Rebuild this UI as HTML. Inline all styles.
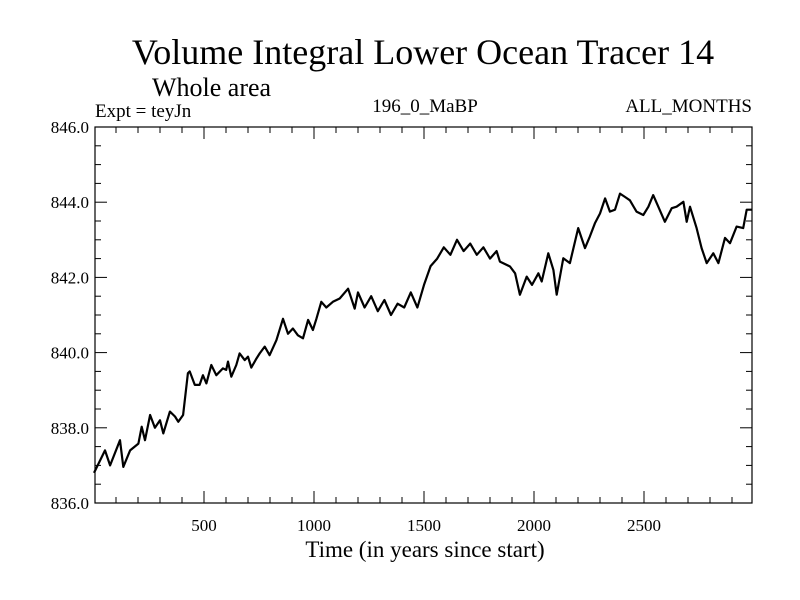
<!DOCTYPE html>
<html><head><meta charset="utf-8"><style>
body{margin:0;background:#fff}
svg{display:block;font-family:"Liberation Serif",serif}
</style></head><body>
<svg width="800" height="600" viewBox="0 0 800 600">
<text x="423" y="64" font-size="36" text-anchor="middle">Volume Integral Lower Ocean Tracer 14</text>
<text x="152" y="96" font-size="26">Whole area</text>
<text x="95" y="117" font-size="19">Expt = teyJn</text>
<text x="425" y="112" font-size="19" text-anchor="middle">196_0_MaBP</text>
<text x="752" y="112" font-size="19" text-anchor="end">ALL_MONTHS</text>
<g id="axes"></g>
<path id="line" fill="none" stroke="#000" stroke-width="2.2" stroke-linejoin="round"/>
<rect x="95" y="127" width="657" height="376" fill="none" stroke="#000" stroke-width="1.2"/>
<text x="425" y="557" font-size="23" text-anchor="middle">Time (in years since start)</text>
</svg>
<script>
const years=[0,50,73,118,133,164,202,217,232,255,277,300,315,345,368,383,405,427,435,458,480,495,511,533,556,586,601,609,624,647,662,685,700,715,738,753,776,798,829,859,882,904,927,950,973,995,1011,1033,1056,1086,1117,1155,1185,1200,1230,1260,1290,1320,1350,1380,1410,1440,1470,1500,1530,1560,1590,1620,1650,1680,1710,1740,1770,1800,1830,1845,1891,1914,1936,1967,1991,2020,2035,2065,2088,2103,2133,2163,2201,2232,2254,2277,2300,2323,2345,2368,2391,2413,2436,2466,2497,2520,2542,2565,2595,2626,2648,2679,2694,2709,2739,2762,2785,2815,2838,2868,2891,2921,2951,2967,2989];
const values=[836.8,837.4,837.0,837.67,836.96,837.4,837.58,838.03,837.67,838.34,838.0,838.2,837.85,838.43,838.3,838.16,838.34,839.45,839.5,839.14,839.14,839.4,839.18,839.67,839.4,839.58,839.54,839.76,839.36,839.67,839.98,839.8,839.89,839.6,839.84,839.98,840.16,839.93,840.33,840.9,840.5,840.64,840.46,840.38,840.87,840.6,840.9,841.35,841.2,841.35,841.44,841.7,841.17,841.6,841.2,841.5,841.1,841.4,841.0,841.3,841.2,841.6,841.2,841.8,842.3,842.5,842.8,842.6,843.0,842.7,842.9,842.6,842.8,842.5,842.7,842.42,842.29,842.11,841.54,842.02,841.8,842.11,841.89,842.64,842.2,841.54,842.51,842.38,843.31,842.78,843.09,843.44,843.7,844.1,843.75,843.8,844.23,844.14,844.05,843.75,843.66,843.88,844.19,843.88,843.48,843.84,843.88,844.01,843.48,843.88,843.31,842.78,842.38,842.64,842.38,843.05,842.91,843.35,843.31,843.8,843.8];
const xTicks=[500,1000,1500,2000,2500];
const yTicks=[836,838,840,842,844,846];
const yLabels=["836.0","838.0","840.0","842.0","844.0","846.0"];
const X=v=>94+v*0.22, Y=v=>503-(v-836)*37.6;
const NS="http://www.w3.org/2000/svg";
const ax=document.getElementById('axes');
function mk(t,a,txt){const e=document.createElementNS(NS,t);for(const k in a)e.setAttribute(k,a[k]);if(txt!==undefined)e.textContent=txt;ax.appendChild(e);return e;}
for(let yr=100;yr<2991;yr+=100){const len=yr%500===0?12:6;
 let l=mk('line',{x1:X(yr),x2:X(yr),y1:503,y2:503-len,stroke:'#000','stroke-width':1});
 
 
 l=mk('line',{x1:X(yr),x2:X(yr),y1:127,y2:127+len,stroke:'#000','stroke-width':1});
 
 }
for(let v=836.5;v<846;v+=0.5){const len=Math.abs(v%2)<1e-6?12:6;
 let l=mk('line',{x1:95,x2:95+len,y1:Y(v),y2:Y(v),stroke:'#000','stroke-width':1});
 
 
 l=mk('line',{x1:752,x2:752-len,y1:Y(v),y2:Y(v),stroke:'#000','stroke-width':1});
 
 }
xTicks.forEach(t=>{const e=mk('text',{x:X(t),y:531,'font-size':17,'text-anchor':'middle'},String(t));
 
 });
yTicks.forEach((t,i)=>{const e=mk('text',{x:89,y:Y(t)+6,'font-size':17,'text-anchor':'end'},yLabels[i]);
 
 });
document.getElementById('line').setAttribute('d',years.map((y,i)=>(i?'L':'M')+X(y).toFixed(1)+' '+Y(values[i]).toFixed(1)).join(' '));
</script>
</body></html>
